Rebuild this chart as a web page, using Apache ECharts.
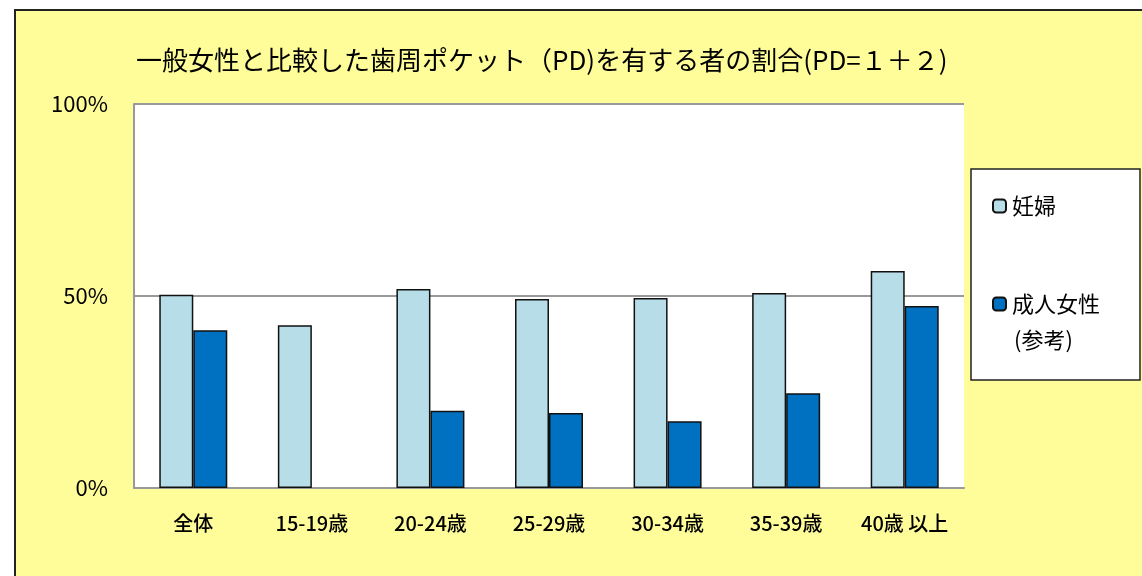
<!DOCTYPE html>
<html>
<head>
<meta charset="utf-8">
<script src="https://cdn.jsdelivr.net/npm/echarts@6/dist/echarts.min.js"></script>
<style>
  html, body { margin: 0; padding: 0; background: #fff; }
  #echart { width: 1142px; height: 576px; }
</style>
</head>
<body>
<div id="echart"></div>
<script>
var categories = ['全体', '15-19歳', '20-24歳', '25-29歳', '30-34歳', '35-39歳', '40歳 以上'];
var ninpu = [50.3, 42.4, 51.8, 49.2, 49.5, 50.8, 56.5];
var seijinJosei = [41.1, null, 20.1, 19.5, 17.4, 24.7, 47.4];
var yTicks = [0, 50, 100];

var font = '"Noto Sans CJK JP", "Noto Sans", sans-serif';
var myChart = echarts.init(document.getElementById('echart'));

myChart.setOption({
    backgroundColor: '#fff',
    textStyle: { fontFamily: font, color: '#000' },
    graphic: [
        {   // 外枠
            type: 'rect', z: -10, silent: true,
            shape: { x: 15, y: 10, width: 1150, height: 600 },
            style: { fill: '#FFFD99', stroke: '#222', lineWidth: 2 }
        },
        {   // 凡例の枠
            type: 'rect', z: 0, silent: true,
            shape: { x: 971, y: 169, width: 169, height: 211 },
            style: { fill: '#fff', stroke: '#222', lineWidth: 1.5 }
        },
        {
            type: 'text', z: 5, left: 1014, top: 329,
            style: { text: '(参考)', fontSize: 22, fontFamily: font, fill: '#000' }
        }
    ],
    title: {
        text: '一般女性と比較した歯周ポケット（PD)を有する者の割合(PD=１＋２)',
        left: 131,
        top: 42,
        textStyle: { fontSize: 26, fontWeight: 'normal', fontFamily: font, color: '#000' }
    },
    legend: {
        orient: 'vertical',
        left: 987,
        top: 190,
        itemGap: 76,
        itemWidth: 13,
        itemHeight: 13,
        textStyle: { fontSize: 22, fontFamily: font, color: '#000', padding: [0, 0, 0, 1] },
        data: ['妊婦', '成人女性']
    },
    grid: {
        left: 134,
        right: 178,
        top: 104,
        bottom: 88,
        show: true,
        backgroundColor: '#fff',
        borderWidth: 0
    },
    xAxis: {
        type: 'category',
        data: categories,
        axisTick: { show: false },
        axisLine: { lineStyle: { color: '#999', width: 2 } },
        axisLabel: { interval: 0, fontSize: 20, fontWeight: 500, color: '#000', margin: 25, fontFamily: font }
    },
    yAxis: {
        type: 'value',
        min: 0,
        max: 100,
        interval: 50,
        axisLine: { show: true, lineStyle: { color: '#999', width: 2 } },
        axisTick: { show: false },
        splitLine: { lineStyle: { color: '#999', width: 2 } },
        axisLabel: {
            fontSize: 22, color: '#000', margin: 26, fontFamily: font,
            formatter: function (v) { return yTicks.indexOf(v) >= 0 ? v + '%' : ''; }
        }
    },
    series: [
        {
            name: '妊婦',
            type: 'bar',
            barWidth: 34,
            barGap: '0%',
            data: ninpu,
            itemStyle: { color: '#B7DDE8', borderColor: '#111', borderWidth: 1.5 }
        },
        {
            name: '成人女性',
            type: 'bar',
            barWidth: 34,
            data: seijinJosei,
            itemStyle: { color: '#0070C0', borderColor: '#111', borderWidth: 1.5 }
        }
    ]
});
</script>
</body>
</html>
